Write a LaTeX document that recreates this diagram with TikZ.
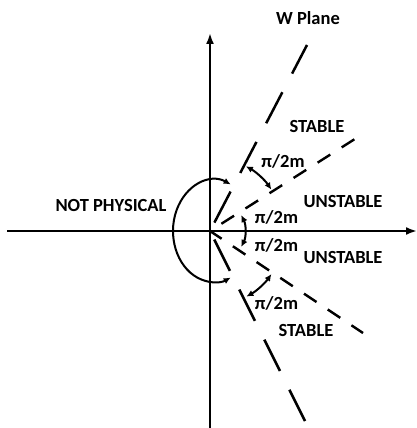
\documentclass[tikz,border=0pt]{standalone}
\usepackage{fontspec}
\setmainfont{Carlito}
\usetikzlibrary{arrows.meta}
\begin{document}
\begin{tikzpicture}[x=1pt,y=-1pt,
  lbl/.style={font=\bfseries\fontsize{18.5}{20}\selectfont, inner sep=0pt, anchor=base},
  axis/.style={line width=2.6pt, -{Latex[length=11pt,width=8pt]}},
  ray/.style={line width=2.5pt, dash pattern=on 35pt off 21pt, dash phase=46.5pt},
  sray/.style={line width=2.4pt, dash pattern=on 15pt off 13.5pt},
  marc/.style={line width=2pt, {Latex[length=7pt,width=6.5pt]}-{Latex[length=7pt,width=6.5pt]}}]
\useasboundingbox (0,0) rectangle (417,428);
% axes
\coordinate (O) at (210,231);
\coordinate (xl) at (7,231);
\coordinate (xr) at (417,231);
\coordinate (yb) at (210,428);
\coordinate (yt) at (210,33);
\draw[axis] (xl) -- (xr);
\draw[axis] (yb) -- (yt);
% rays
\coordinate (r1) at (307,45);
\coordinate (r2) at (358,137);
\coordinate (r3) at (363,333);
\coordinate (r4) at (306,423);
\draw[ray] (O) -- (r1);
\draw[ray] (O) -- (r4);
\draw[sray, dash phase=15pt] (O) -- (r2);
\draw[sray, dash phase=1pt] (O) -- (r3);
% angle arcs
\draw[marc] ([shift={(O)}]61:74pt) arc[start angle=61, end angle=34, radius=74pt];
\draw[marc] ([shift={(O)}]27:35pt) arc[start angle=27, end angle=-27, radius=35pt];
\draw[marc] ([shift={(O)}]-35:75pt) arc[start angle=-35, end angle=-61, radius=75pt];
\coordinate (E) at (214,231);
\draw[marc] ([shift={(E)}]66:41pt and 51pt) arc[start angle=66, end angle=294, x radius=41pt, y radius=51pt];
% labels
\node[lbl] (w) at (308,25) {W Plane};
\node[lbl] (s1) at (317,132) {STABLE};
\node[lbl] (p1) at (283,167) {π/2m};
\node[lbl] (u1) at (343,207) {UNSTABLE};
\node[lbl] (p2) at (276.5,223) {π/2m};
\node[lbl] (p3) at (276.5,251) {π/2m};
\node[lbl] (u2) at (343,263) {UNSTABLE};
\node[lbl] (p4) at (276.5,309) {π/2m};
\node[lbl] (s2) at (306,336) {STABLE};
\node[lbl] (np) at (111,211) {NOT PHYSICAL};
\end{tikzpicture}
\end{document}
